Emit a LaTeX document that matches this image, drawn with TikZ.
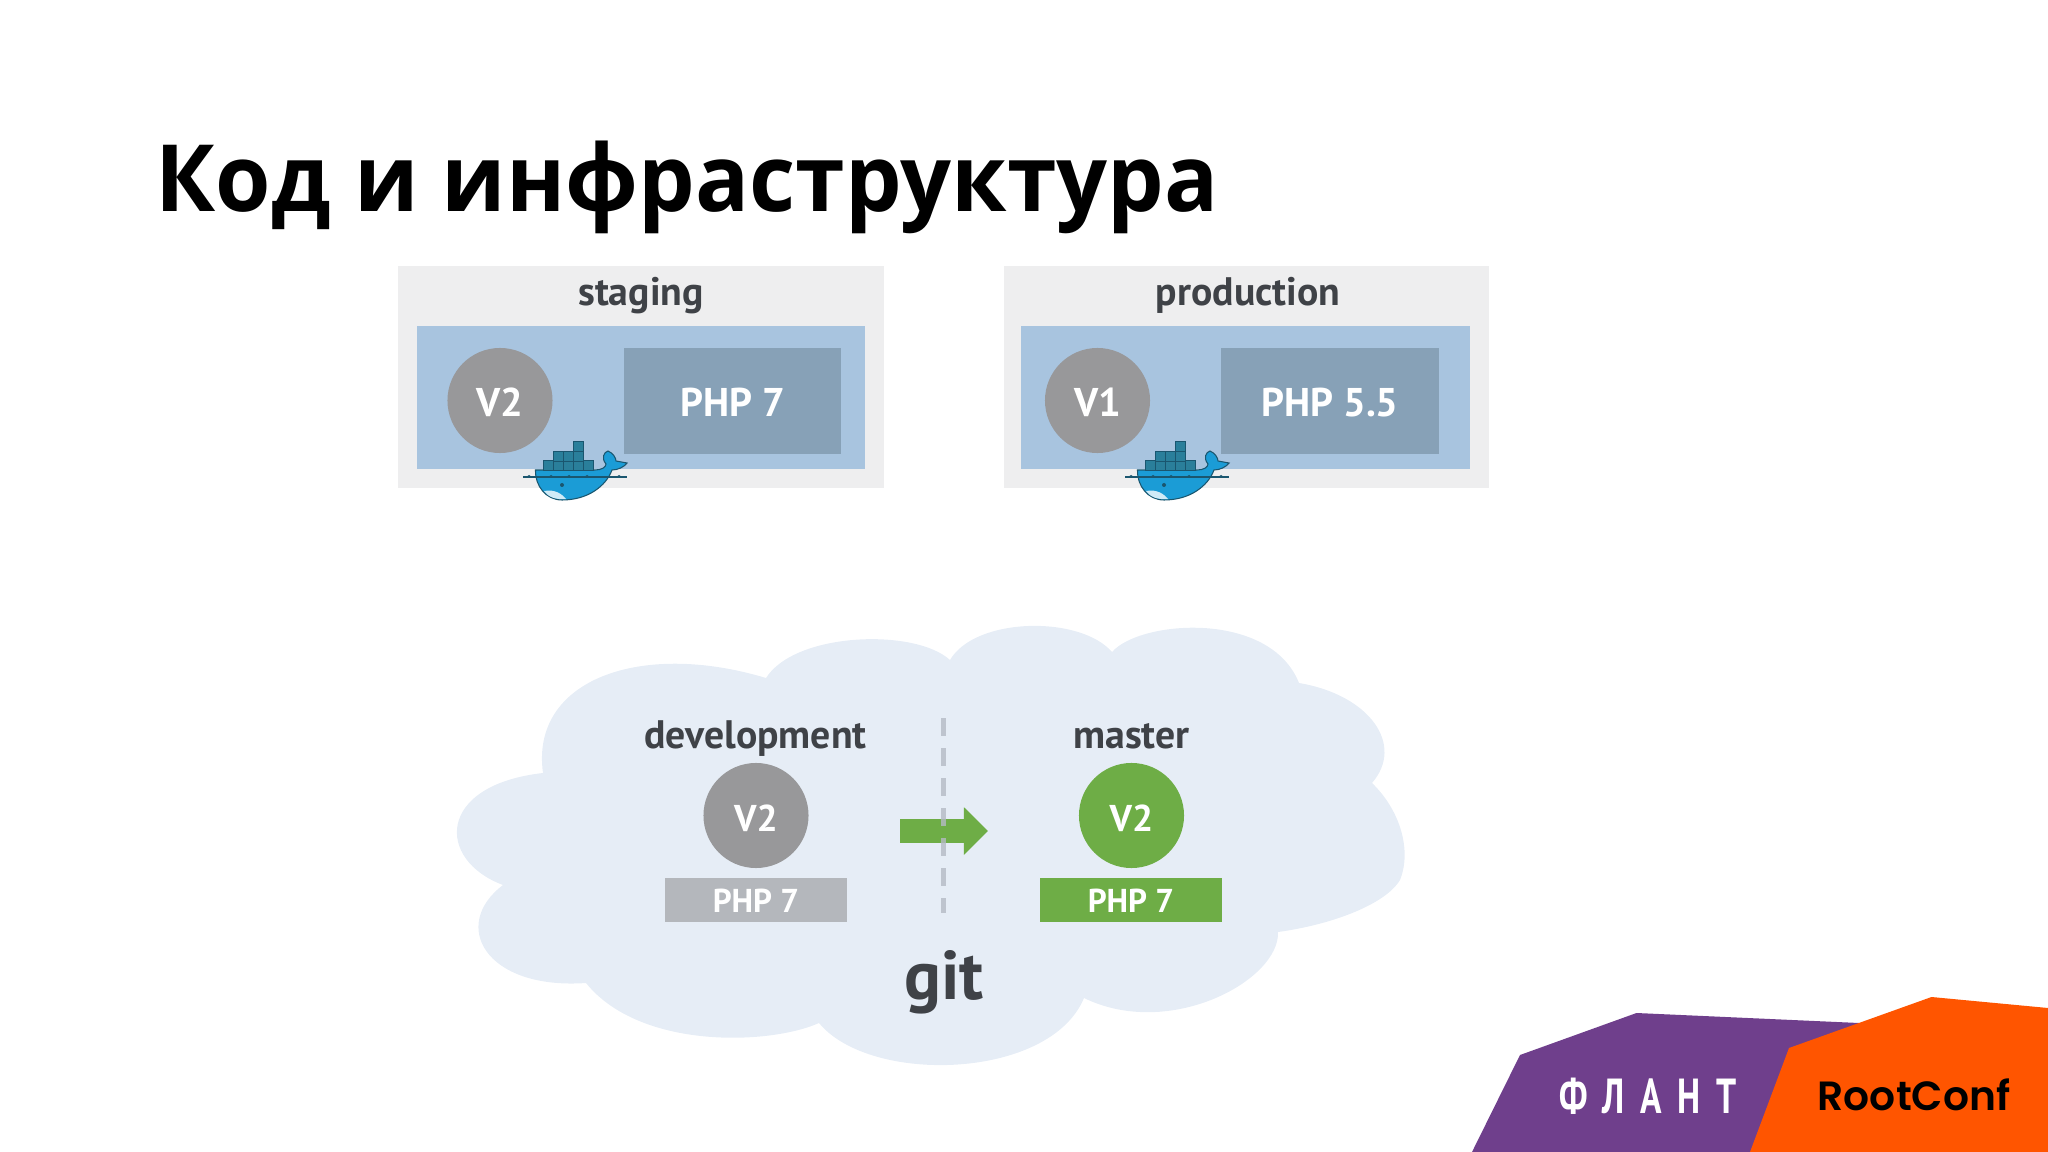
\documentclass[tikz,border=0pt]{standalone}
\usepackage{fontspec}
\setmainfont{PT Sans}
\newfontfamily\titlefont[FakeStretch=0.965]{Open Sans}
\newfontfamily\rootfont{Poppins SemiBold}
\newfontfamily\flantfont[FakeStretch=0.72,LetterSpace=32]{PT Sans}
\usetikzlibrary{arrows.meta}
\definecolor{envgray}{HTML}{EEEEEF}
\definecolor{hostblue}{HTML}{A8C4DF}
\definecolor{phpblue}{HTML}{87A1B7}
\definecolor{vgray}{HTML}{98989A}
\definecolor{phpgray}{HTML}{B4B7BC}
\definecolor{gitgreen}{HTML}{6EAD46}
\definecolor{cloudblue}{HTML}{E6EDF6}
\definecolor{inkgray}{HTML}{3F4247}
\definecolor{dashgray}{HTML}{B5BAC4}
\definecolor{flantpurple}{HTML}{6F3F8C}
\definecolor{rootorange}{HTML}{FF5500}
\definecolor{boxteal}{HTML}{2A7F9B}
\definecolor{whaleblue}{HTML}{1B9CD6}
\definecolor{whaledark}{HTML}{1A566F}
\tikzset{
  slide/.style={x=0.01cm, y=-0.01cm},
  envbox/.style={fill=envgray, minimum width=4.85cm, minimum height=2.22cm, inner sep=0pt},
  hostbox/.style={fill=hostblue, minimum width=4.48cm, minimum height=1.43cm, inner sep=0pt},
  phpbox/.style={fill=phpblue, text=white, font=\fontsize{11.4}{13}\selectfont\bfseries,
    text height=0.31cm, text depth=0pt, minimum width=2.17cm, minimum height=1.06cm, inner sep=0pt},
  vcircle/.style={circle, fill=#1, text=white, font=\fontsize{11.4}{13}\selectfont\bfseries,
    text height=0.31cm, text depth=0pt, minimum size=1.05cm, inner sep=0pt},
  phpbar/.style={fill=#1, text=white, font=\fontsize{9.4}{11}\selectfont\bfseries,
    text height=0.25cm, text depth=0pt, minimum width=1.82cm, minimum height=0.44cm, inner sep=0pt},
  blabel/.style={text=inkgray, font=\fontsize{11.3}{13}\selectfont\bfseries, anchor=base, inner sep=0pt},
}
\newcommand{\dockerwhale}[1]{%
  \begin{scope}[shift={(#1)}]
    \fill[whaleblue, draw=whaledark, line width=0.3pt] (25.5,50) -- (85,50)
      .. controls (92,50) and (96,47) .. (96,44) .. controls (91,38) and (94,32) .. (98,31)
      .. controls (103,33) and (106,38) .. (106,41) -- (117,43)
      .. controls (114,47) and (108,50) .. (102,50)
      .. controls (96,66) and (78,80) .. (52,80)
      .. controls (36,80) and (25,66) .. (25.5,50) -- cycle;
    \fill[white!80!whaleblue] (34,71) .. controls (45,69) and (52,74) .. (56,79)
      .. controls (46,80) and (38,77) .. (34,71) -- cycle;
    \fill[whaledark] (52,65) circle (2);
    \draw[whaledark, line width=0.4pt] (13,57) -- (117,57);
    \foreach \wx in {19,41,59,77,109} {\fill[whaledark] (\wx-3,57) -- (\wx,55) -- (\wx+3,57) -- cycle;}
    \foreach \bx/\by in {33/40,43/40,53/40,63/40,73/40,43/31,53/31,63/31,63/21} {
      \fill[boxteal, draw=whaledark, line width=0.25pt] (\bx,\by) rectangle ++(10,10);}
  \end{scope}}
\begin{document}
\begin{tikzpicture}[slide]
  \useasboundingbox (0,0) rectangle (2048,1152);
  % title
  \node[anchor=base west, inner sep=0pt, font=\fontsize{26.4}{32}\selectfont\titlefont\bfseries] (title) at (155,212)
    {Код и инфраструктура};
  % staging
  \node[envbox] (stagingenv) at (641,377) {};
  \node[hostbox] (stagingdock) at (641,397.5) {};
  \node[blabel] (stagingname) at (641,306) {staging};
  \node[vcircle=vgray] (stagingver) at (500,400.5) {V2};
  \node[phpbox] (stagingphp) at (732.5,401) {PHP 7};
  \dockerwhale{510,420}
  % production
  \node[envbox] (prodenv) at (1246.5,377) {};
  \node[hostbox] (proddock) at (1245.5,397.5) {};
  \node[blabel] (prodname) at (1248,306) {production};
  \node[vcircle=vgray] (prodver) at (1097.5,400.5) {V1};
  \node[phpbox] (prodphp) at (1330,401) {PHP 5.5};
  \dockerwhale{1112,420}
  % git cloud
  \fill[cloudblue] (766,678) .. controls (795,632) and (915,628) .. (950,660)
    .. controls (975,617) and (1080,615) .. (1112,652)
    .. controls (1140,620) and (1270,610) .. (1299,683)
    .. controls (1370,695) and (1405,745) .. (1372,783)
    .. controls (1400,810) and (1412,850) .. (1400,880)
    .. controls (1385,905) and (1330,925) .. (1278,932)
    .. controls (1280,980) and (1170,1040) .. (1084,998)
    .. controls (1050,1080) and (870,1085) .. (819,1023)
    .. controls (770,1045) and (640,1050) .. (586,983)
    .. controls (485,990) and (450,925) .. (503,885)
    .. controls (436,860) and (436,785) .. (543,773)
    .. controls (530,680) and (640,640) .. (766,678) -- cycle;
  \node[blabel] (devname) at (755.5,748) {development};
  \node[blabel] (mastername) at (1131.5,748) {master};
  \node[vcircle=vgray, font=\fontsize{10.6}{12}\selectfont\bfseries] (devver) at (756,815.5) {V2};
  \node[vcircle=gitgreen, font=\fontsize{10.6}{12}\selectfont\bfseries] (masterver) at (1131.5,815.5) {V2};
  \node[phpbar=phpgray] (devphp) at (756,900) {PHP 7};
  \node[phpbar=gitgreen] (masterphp) at (1131,900) {PHP 7};
  \node[blabel, font=\fontsize{19.6}{24}\selectfont\bfseries] (gitname) at (944,999) {git};
  % merge arrow and the divider over it
  \coordinate (arrowtail) at (900,831);
  \coordinate (arrowhead) at (988,831);
  \coordinate (dashtop) at (943.5,718);
  \coordinate (dashbot) at (943.5,913);
  \draw[gitgreen, line width=0.24cm, -{Triangle[length=0.24cm, width=0.46cm]}] (arrowtail) -- (arrowhead);
  \draw[dashgray, opacity=0.8, line width=0.05cm, dash pattern=on 0.18cm off 0.12cm] (dashtop) -- (dashbot);
  % corner logos
  \fill[flantpurple] (1472,1152) -- (1520,1055) -- (1636.5,1013) -- (1859,1023) -- (1900,1040) -- (1800,1152) -- cycle;
  \fill[rootorange] (1750,1152) -- (1789,1048) -- (1931.5,997) -- (2048,1008) -- (2048,1152) -- cycle;
  \node[anchor=base, inner sep=0pt, text=white, font=\fontsize{14}{16}\selectfont\flantfont\bfseries] (flant) at (1648,1113) {ФЛАНТ};
  \node[anchor=base, inner sep=0pt, text=black, font=\fontsize{11.6}{14}\selectfont\rootfont] (rootconf) at (1914,1110) {RootConf};
\end{tikzpicture}
\end{document}
